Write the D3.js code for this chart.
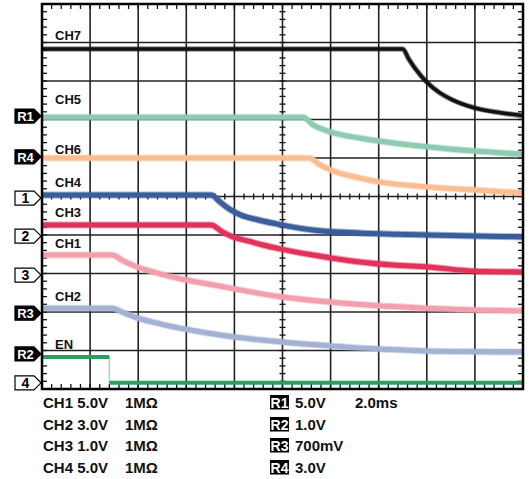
<!DOCTYPE html>
<html>
<head>
<meta charset="utf-8">
<script src="https://cdn.jsdelivr.net/npm/d3@7"></script>
<style>
  html, body { margin: 0; padding: 0; background: #fff; }
  svg { display: block; }
  text { font-family: "Liberation Sans", Arial, Helvetica, sans-serif; font-weight: bold; }
</style>
</head>
<body>
<svg id="chart" width="530" height="479"></svg>
<script>
// ---------- DATA (time in ms, 2.0 ms/div; values in screen divisions, 0 = bottom, 10 = top) ----------
const ch7Time  = [0, 15.0, 15.25, 15.5, 16, 16.5, 17, 18, 19, 20];
const ch7Value = [8.83, 8.83, 8.57, 8.34, 7.97, 7.71, 7.53, 7.30, 7.18, 7.10];

const ch5Time  = [0, 10.85, 11.27, 11.98, 13.2, 14, 16, 18, 20];
const ch5Value = [7.06, 7.06, 6.86, 6.68, 6.52, 6.44, 6.29, 6.18, 6.10];

const ch6Time  = [0, 11.1, 11.56, 12, 13.2, 14, 16, 18, 20];
const ch6Value = [6.0, 6.0, 5.82, 5.69, 5.48, 5.38, 5.25, 5.17, 5.09];

const ch4Time  = [0, 7.03, 7.4, 7.8, 8.3, 9.0, 9.9, 11.27, 13.22, 16.05, 20];
const ch4Value = [5.04, 5.04, 4.86, 4.67, 4.51, 4.39, 4.27, 4.13, 4.05, 4.0, 3.95];

const ch3Time  = [0, 7.03, 7.5, 7.94, 8.6, 9.19, 9.9, 11.27, 13.22, 14.6, 16.05, 18.05, 20];
const ch3Value = [4.26, 4.26, 4.08, 3.95, 3.84, 3.74, 3.64, 3.48, 3.30, 3.22, 3.17, 3.06, 3.04];

const ch1Time  = [0, 2.91, 3.4, 4.0, 4.8, 6.0, 7.5, 8.0, 10, 12, 14, 16, 18, 20];
const ch1Value = [3.48, 3.48, 3.32, 3.16, 3.01, 2.83, 2.66, 2.60, 2.39, 2.26, 2.16, 2.10, 2.05, 2.03];

const ch2Time  = [0, 2.91, 3.4, 4.0, 5.0, 6.0, 7.0, 8.0, 9.5, 10.3, 12.0, 14.0, 16.0, 18.0, 20];
const ch2Value = [2.10, 2.10, 1.98, 1.84, 1.68, 1.55, 1.44, 1.35, 1.25, 1.20, 1.12, 1.04, 0.99, 0.97, 0.96];

const enTime   = [0, 2.8, 2.8, 20];
const enValue  = [0.83, 0.83, 0.16, 0.16];

// reference / ground markers on the left edge
const markerNames  = ["R1", "R4", "1", "2", "3", "R3", "R2", "4"];
const markerLevels = [7.09, 6.03, 4.96, 3.97, 2.96, 1.97, 0.91, 0.16];

// trace annotations
const traceNames = ["CH7", "CH5", "CH6", "CH4", "CH3", "CH1", "CH2", "EN"];

// scope settings read-out
const chanNames   = ["CH1", "CH2", "CH3", "CH4"];
const chanScales  = ["5.0V", "3.0V", "1.0V", "5.0V"];
const chanImped   = ["1MΩ", "1MΩ", "1MΩ", "1MΩ"];
const refNames    = ["R1", "R2", "R3", "R4"];
const refScales   = ["5.0V", "1.0V", "700mV", "3.0V"];
const timebase    = "2.0ms";

// ---------- LAYOUT ----------
const svg = d3.select("#chart");
const pL = 42, pR = 523, pT = 4, pB = 389;
const xDivs = 10, yDivs = 10;
const x = d3.scaleLinear().domain([0, 20]).range([pL, pR]);
const y = d3.scaleLinear().domain([0, 10]).range([pB, pT]);

const traces = [
  { name: "CH7", t: ch7Time, v: ch7Value, color: "#111111", w: 3.5 },
  { name: "CH5", t: ch5Time, v: ch5Value, color: "#8fcbb0", w: 5 },
  { name: "CH6", t: ch6Time, v: ch6Value, color: "#fdbd92", w: 5 },
  { name: "CH4", t: ch4Time, v: ch4Value, color: "#3a5e9c", w: 5 },
  { name: "CH3", t: ch3Time, v: ch3Value, color: "#e1335a", w: 5 },
  { name: "CH1", t: ch1Time, v: ch1Value, color: "#f2a0ae", w: 5 },
  { name: "CH2", t: ch2Time, v: ch2Value, color: "#a3b1d3", w: 5 }
];
const labelLevels = [9.19, 7.51, 6.21, 5.36, 4.58, 3.78, 2.4, 1.15];

// ---------- GRID ----------
const g = svg.append("g");
const xGrid = d3.range(1, xDivs).map(i => i * 2);
const yGrid = d3.range(1, yDivs);
g.selectAll("line.vg").data(xGrid).join("line")
  .attr("x1", d => x(d)).attr("x2", d => x(d)).attr("y1", pT).attr("y2", pB)
  .attr("stroke", "#222").attr("stroke-width", 1.6);
g.selectAll("line.hg").data(yGrid).join("line")
  .attr("y1", d => y(d)).attr("y2", d => y(d)).attr("x1", pL).attr("x2", pR)
  .attr("stroke", "#222").attr("stroke-width", 1.6);

// minor ticks (5 per division)
const xMinor = d3.range(0, xDivs * 5 + 1).map(i => i * 0.4);
const yMinor = d3.range(0, yDivs * 5 + 1).map(i => i * 0.2);
const tk = svg.append("g").attr("stroke", "#111").attr("stroke-width", 1.3);
tk.selectAll("line.tt").data(xMinor).join("line")
  .attr("x1", d => x(d)).attr("x2", d => x(d)).attr("y1", pT).attr("y2", pT + 5);
tk.selectAll("line.tb").data(xMinor).join("line")
  .attr("x1", d => x(d)).attr("x2", d => x(d)).attr("y1", pB).attr("y2", pB - 5);
tk.selectAll("line.tl").data(yMinor).join("line")
  .attr("y1", d => y(d)).attr("y2", d => y(d)).attr("x1", pL).attr("x2", pL + 5);
tk.selectAll("line.tr").data(yMinor).join("line")
  .attr("y1", d => y(d)).attr("y2", d => y(d)).attr("x1", pR).attr("x2", pR - 5);
tk.selectAll("line.cx").data(xMinor).join("line")
  .attr("x1", d => x(d)).attr("x2", d => x(d)).attr("y1", y(5) - 3).attr("y2", y(5) + 3);
tk.selectAll("line.cy").data(yMinor).join("line")
  .attr("y1", d => y(d)).attr("y2", d => y(d)).attr("x1", x(10) - 3).attr("x2", x(10) + 3);

// ---------- TRACES ----------
const line = d3.line().x(d => x(d[0])).y(d => y(d[1])).curve(d3.curveMonotoneX);
const tr = svg.append("g");
traces.forEach(s => {
  const pts = s.t.map((t, i) => [t, s.v[i]]);
  tr.append("path").attr("d", line(pts)).attr("fill", "none")
    .attr("stroke", s.color).attr("stroke-opacity", 0.45).attr("stroke-width", s.w + 2);
  tr.append("path").attr("d", line(pts)).attr("fill", "none")
    .attr("stroke", s.color).attr("stroke-width", s.w);
});
const enPts = enTime.map((t, i) => [t, enValue[i]]);
const lineStep = d3.line().x(d => x(d[0])).y(d => y(d[1]));
tr.append("path").attr("d", lineStep(enPts)).attr("fill", "none")
  .attr("stroke", "#a8d8bc").attr("stroke-width", 1.5);
for (let i = 0; i < enPts.length - 1; i++) {
  if (enPts[i][1] === enPts[i + 1][1]) {
    tr.append("path").attr("d", lineStep([enPts[i], enPts[i + 1]])).attr("fill", "none")
      .attr("stroke", "#2e9c5e").attr("stroke-width", 4);
  }
}

// ---------- BORDER ----------
svg.append("rect").attr("x", pL).attr("y", pT).attr("width", pR - pL).attr("height", pB - pT)
  .attr("fill", "none").attr("stroke", "#000").attr("stroke-width", 2.5);

// ---------- TRACE LABELS ----------
svg.append("g").selectAll("text").data(traceNames).join("text")
  .attr("x", 55).attr("y", (d, i) => y(labelLevels[i]) + 4.5)
  .attr("font-size", 13).attr("fill", "#111").text(d => d);

// ---------- LEFT MARKERS ----------
const mk = svg.append("g");
markerNames.forEach((n, i) => {
  const cy = y(markerLevels[i]);
  const isRef = n.startsWith("R");
  const x0 = 15, x1 = 34, tip = 41, h = 7;
  mk.append("path")
    .attr("d", `M${x0},${cy - h}L${x1},${cy - h}L${tip},${cy}L${x1},${cy + h}L${x0},${cy + h}Z`)
    .attr("fill", isRef ? "#000" : "#fff").attr("stroke", "#000").attr("stroke-width", 1.2);
  mk.append("text").attr("x", (x0 + x1) / 2 + 1).attr("y", cy + 5)
    .attr("text-anchor", "middle").attr("font-size", isRef ? 13 : 14)
    .attr("fill", isRef ? "#fff" : "#000").text(n);
});

// ---------- SETTINGS READ-OUT ----------
const rowBase = [408, 430, 451, 473];
const ro = svg.append("g").attr("font-size", 15).attr("fill", "#111");
chanNames.forEach((n, i) => {
  ro.append("text").attr("x", 43).attr("y", rowBase[i]).text(n + " " + chanScales[i]);
  ro.append("text").attr("x", 125).attr("y", rowBase[i]).text(chanImped[i]);
});
refNames.forEach((n, i) => {
  ro.append("rect").attr("x", 270).attr("y", rowBase[i] - 13).attr("width", 19).attr("height", 14.5).attr("fill", "#000");
  ro.append("text").attr("x", 279.5).attr("y", rowBase[i]).attr("text-anchor", "middle")
    .attr("font-size", 14).attr("fill", "#fff").text(n);
  ro.append("text").attr("x", 295).attr("y", rowBase[i]).text(refScales[i]);
});
ro.append("text").attr("x", 355).attr("y", rowBase[0]).text(timebase);
</script>
</body>
</html>
